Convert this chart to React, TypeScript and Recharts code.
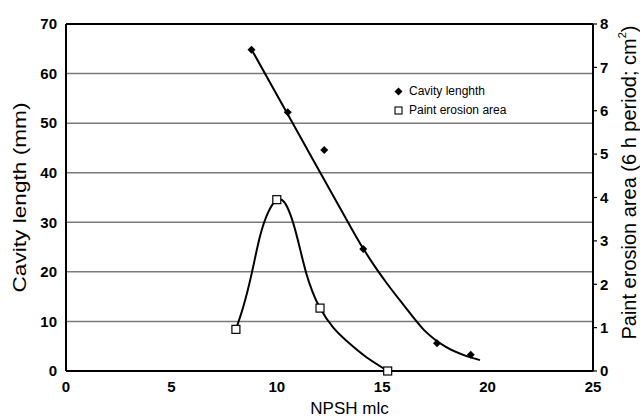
import React from 'react';
import {
  ComposedChart,
  Line,
  Scatter,
  XAxis,
  YAxis,
  CartesianGrid,
  ReferenceLine,
  Legend,
  Label,
} from 'recharts';

const FONT = '"Liberation Sans", Arial, Helvetica, sans-serif';

// Tick labels
const xTicks = [0, 5, 10, 15, 20, 25];
const leftTicks = [0, 10, 20, 30, 40, 50, 60, 70];
const rightTicks = [0, 1, 2, 3, 4, 5, 6, 7, 8];

// Measured points: cavity length (mm) vs NPSH
const cavityNpsh = [8.8, 10.52, 12.25, 14.1, 17.6, 19.2];
const cavityLength = [64.8, 52.2, 44.6, 24.6, 5.6, 3.3];

// Measured points: paint erosion area (cm2) vs NPSH
const erosionNpsh = [8.06, 10.0, 12.05, 15.26];
const erosionArea = [0.96, 3.95, 1.45, 0];

// Fitted curve: cavity length
const cavityFitNpsh = [8.81, 11.0, 13.0, 14.1, 14.6, 15.2, 16.0, 17.0, 18.0, 19.0, 19.64];
const cavityFitLength = [64.8, 48.1, 32.9, 24.7, 21.4, 17.8, 13.4, 8.2, 4.9, 3.0, 2.2];

// Fitted curve: paint erosion area
const erosionFitNpsh = [8.06, 8.41, 8.81, 9.2, 9.6, 10.0, 10.39, 10.78, 11.1, 11.4, 11.7, 12.05, 12.68, 13.48, 14.27, 15.26];
const erosionFitArea = [0.96, 1.48, 2.25, 3.1, 3.67, 3.94, 3.87, 3.41, 2.82, 2.25, 1.82, 1.45, 1.0, 0.62, 0.31, 0];

const zip = (xs: number[], ys: number[]) => xs.map((x, i) => ({ x, y: ys[i] }));

const cavityPoints = zip(cavityNpsh, cavityLength);
const erosionPoints = zip(erosionNpsh, erosionArea);
const cavityFit = zip(cavityFitNpsh, cavityFitLength);
const erosionFit = zip(erosionFitNpsh, erosionFitArea);

const Diamond = (p: any) => {
  const { cx, cy } = p;
  const r = 4;
  return (
    <polygon
      points={`${cx},${cy - r} ${cx + r},${cy} ${cx},${cy + r} ${cx - r},${cy}`}
      fill="#000"
    />
  );
};

const Square = (p: any) => {
  const { cx, cy } = p;
  return (
    <rect x={cx - 4} y={cy - 4} width={8} height={8} fill="#fff" stroke="#000" strokeWidth={1.2} />
  );
};

const LeftTitle = (props: any) => {
  const vb = props.viewBox || {};
  const x = vb.x + 20;
  const y = vb.y + vb.height / 2;
  return (
    <text
      x={x}
      y={y}
      transform={`rotate(-90, ${x}, ${y})`}
      textAnchor="middle"
      dominantBaseline="central"
      fontFamily={FONT}
      fontSize={18}
      fill="#000"
      textLength={190}
      lengthAdjust="spacingAndGlyphs"
    >
      Cavity length (mm)
    </text>
  );
};

const RightTitle = (props: any) => {
  const vb = props.viewBox || {};
  const x = vb.x + 36;
  const y = vb.y + vb.height / 2 - 15;
  return (
    <text
      x={x}
      y={y}
      transform={`rotate(-90, ${x}, ${y})`}
      textAnchor="middle"
      dominantBaseline="central"
      fontFamily={FONT}
      fontSize={20}
      fill="#000"
    >
      <tspan>Paint erosion area (6 h period; cm</tspan>
      <tspan fontSize={11} dy={-7}>2</tspan>
      <tspan dy={7}>)</tspan>
    </text>
  );
};

const BottomTitle = (props: any) => {
  const vb = props.viewBox || {};
  const x = vb.x + vb.width / 2 + 20;
  const y = vb.y + 37;
  return (
    <text
      x={x}
      y={y}
      textAnchor="middle"
      dominantBaseline="central"
      fontFamily={FONT}
      fontSize={17}
      fill="#000"
    >
      NPSH mlc
    </text>
  );
};

const LegendBox = () => (
  <div style={{ fontFamily: FONT, fontSize: 12, lineHeight: '19px', color: '#000' }}>
    <div style={{ display: 'flex', alignItems: 'center', height: 19 }}>
      <svg width={9} height={9} style={{ display: 'block' }}>
        <polygon points="4.5,0.5 8.5,4.5 4.5,8.5 0.5,4.5" fill="#000" />
      </svg>
      <span style={{ marginLeft: 6 }}>Cavity lenghth</span>
    </div>
    <div style={{ display: 'flex', alignItems: 'center', height: 19 }}>
      <svg width={9} height={9} style={{ display: 'block' }}>
        <rect x={1} y={1} width={7} height={7} fill="#fff" stroke="#000" strokeWidth={1.1} />
      </svg>
      <span style={{ marginLeft: 6 }}>Paint erosion area</span>
    </div>
  </div>
);

const tickStyle = { fontFamily: FONT, fontSize: 15, fontWeight: 700, fill: '#000' };

export default function App() {
  return (
    <div style={{ position: 'absolute', left: 0, top: 0, width: 640, height: 418, background: '#fff' }}>
      <ComposedChart
        width={640}
        height={418}
        margin={{ top: 24, right: 0, bottom: 0, left: 0 }}
      >
        <CartesianGrid horizontal vertical={false} stroke="#7a7a7a" strokeWidth={1.5} yAxisId="left" />
        <XAxis
          type="number"
          dataKey="x"
          domain={[0, 25]}
          ticks={xTicks}
          allowDataOverflow
          height={47}
          tickLine={false}
          tickSize={0}
          tickMargin={10}
          axisLine={{ stroke: '#000', strokeWidth: 2 }}
          tick={tickStyle}
        >
          <Label content={<BottomTitle />} />
        </XAxis>
        <YAxis
          yAxisId="left"
          dataKey="y"
          type="number"
          domain={[0, 70]}
          ticks={leftTicks}
          width={66}
          tickLine={false}
          tickSize={0}
          tickMargin={9}
          axisLine={{ stroke: '#000', strokeWidth: 2 }}
          tick={tickStyle}
        >
          <Label content={<LeftTitle />} />
        </YAxis>
        <YAxis
          yAxisId="right"
          orientation="right"
          dataKey="y"
          type="number"
          domain={[0, 8]}
          ticks={rightTicks}
          width={47}
          tickLine={{ stroke: '#000', strokeWidth: 1.2 }}
          tickSize={4}
          tickMargin={3}
          axisLine={{ stroke: '#000', strokeWidth: 2 }}
          tick={tickStyle}
        >
          <Label content={<RightTitle />} />
        </YAxis>
        <ReferenceLine yAxisId="left" y={70} stroke="#000" strokeWidth={2} />
        <Line
          yAxisId="left"
          data={cavityFit}
          dataKey="y"
          type="monotone"
          stroke="#000"
          strokeWidth={2}
          dot={false}
          activeDot={false}
          isAnimationActive={false}
          legendType="none"
        />
        <Line
          yAxisId="right"
          data={erosionFit}
          dataKey="y"
          type="natural"
          stroke="#000"
          strokeWidth={2}
          dot={false}
          activeDot={false}
          isAnimationActive={false}
          legendType="none"
        />
        <Scatter
          yAxisId="left"
          data={cavityPoints}
          dataKey="y"
          shape={<Diamond />}
          isAnimationActive={false}
          name="Cavity lenghth"
        />
        <Scatter
          yAxisId="right"
          data={erosionPoints}
          dataKey="y"
          shape={<Square />}
          isAnimationActive={false}
          name="Paint erosion area"
        />
        <Legend
          layout="vertical"
          align="center"
          verticalAlign="middle"
          content={<LegendBox />}
          wrapperStyle={{ left: 394, top: 82, width: 160, height: 40 }}
        />
      </ComposedChart>
    </div>
  );
}
